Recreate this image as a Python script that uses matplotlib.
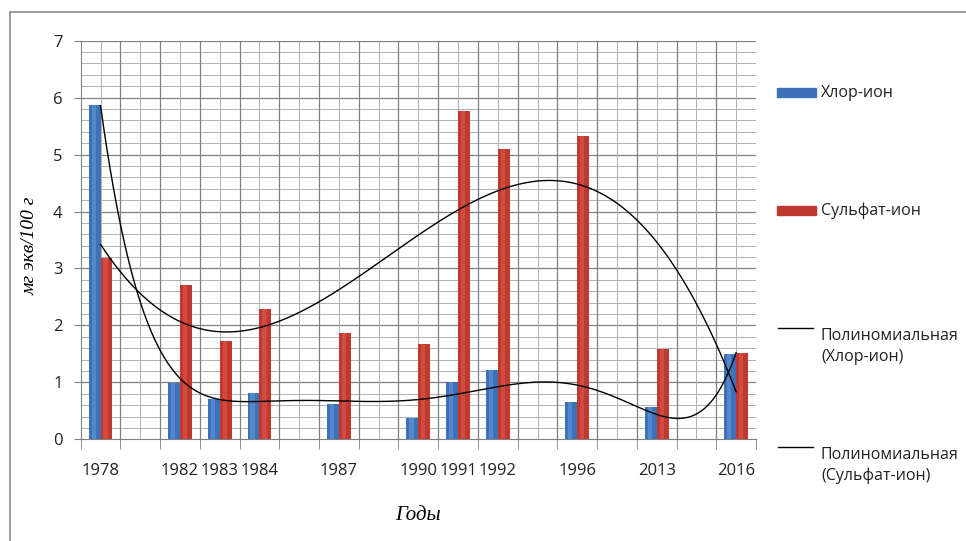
import matplotlib.pyplot as plt
import numpy as np
from matplotlib.lines import Line2D
from matplotlib.patches import Rectangle

# Category slots along the x axis (empty slots keep the spacing between years)
years = ['1978', '', '1982', '1983', '1984', '', '1987', '', '1990', '1991',
         '1992', '', '1996', '', '2013', '', '2016']
chlor = [5.87, None, 0.99, 0.70, 0.82, None, 0.62, None, 0.37, 1.00,
         1.21, None, 0.65, None, 0.56, None, 1.50]
sulfate = [3.18, None, 2.71, 1.72, 2.28, None, 1.87, None, 1.67, 5.76,
           5.10, None, 5.33, None, 1.59, None, 1.52]

# order of the polynomial trendline for each series
chlor_order = 6
sulfate_order = 3

blue = '#3d72b8'
blue_hi = '#6fa3e0'
red = '#c0392f'
red_hi = '#e8605a'
grid_major = '#808080'
grid_minor = '#b0b0b0'

plt.rcParams['font.family'] = ['Open Sans', 'DejaVu Sans']

fig = plt.figure(figsize=(9.66, 5.41), dpi=100)
ax = fig.add_axes([80.7 / 966, (541 - 439.3) / 541, (756 - 80.7) / 966, (439.3 - 40.7) / 541])

x = np.arange(len(years))
bar_w = 0.3


def draw_bars(values, offset, color, hi):
    idx = [i for i, v in enumerate(values) if v is not None]
    vals = [values[i] for i in idx]
    pos = x[idx] + offset
    ax.bar(pos, vals, width=bar_w, color=color, zorder=3, linewidth=0)
    # lighter stripe gives the bars a rounded look
    ax.bar(pos - bar_w * 0.08, vals, width=bar_w * 0.35, color=hi, alpha=0.45,
           zorder=3, linewidth=0)
    return idx, vals


ci, cv = draw_bars(chlor, -bar_w / 2, blue, blue_hi)
si, sv = draw_bars(sulfate, bar_w / 2, red, red_hi)

# polynomial trendlines, category index as x
xs = np.linspace(0, len(years) - 1, 400)
for idx, vals, order in ((ci, cv, chlor_order), (si, sv, sulfate_order)):
    coef = np.polyfit(np.array(idx, dtype=float), vals, order)
    ax.plot(xs, np.polyval(coef, xs), color='black', lw=1.0, zorder=4)

# axes and grid
ax.set_xlim(-0.5, len(years) - 0.5)
ax.set_ylim(0, 7)
ax.set_yticks(range(0, 8))
ax.set_yticks(np.arange(0, 7.01, 0.2), minor=True)
ax.set_xticks(x)
ax.set_xticklabels(years)
ax.set_xticks(np.arange(-0.5, len(years), 1.0), minor=True)

ax.grid(False)
for yv in np.arange(0.2, 7.0, 0.2):
    major = abs(yv - round(yv)) < 1e-6
    ax.axhline(yv, color=grid_major if major else grid_minor,
               lw=0.9 if major else 0.7, zorder=1)
for xv in x:
    ax.axvline(xv, color=grid_minor, lw=0.7, zorder=1)
for xv in np.arange(0.5, len(years) - 1, 1.0):
    ax.axvline(xv, color=grid_major, lw=0.9, zorder=1)
ax.axhline(7, color=grid_major, lw=0.9, zorder=1)

for side in ('top', 'right'):
    ax.spines[side].set_visible(False)
ax.spines['left'].set_color('#808080')
ax.spines['bottom'].set_color('#808080')

ax.tick_params(axis='x', which='major', length=0, pad=17, labelsize=12, colors='#222222')
ax.tick_params(axis='x', which='minor', length=7, color='#808080')
ax.tick_params(axis='y', which='major', length=5, pad=8, labelsize=12,
               color='#808080', labelcolor='#222222')
ax.tick_params(axis='y', which='minor', length=0)

ax.set_ylabel('мг экв/100 г', family='Liberation Serif', style='italic', fontsize=14)
ax.yaxis.set_label_coords(-0.075, 0.485)
ax.set_xlabel('Годы', family='Liberation Serif', style='italic', fontsize=15)
ax.xaxis.set_label_coords(0.5, -0.19)
ax.xaxis.label.set_va('center')
ax.yaxis.label.set_va('center')

# legend on the right
W, H = 966, 541


def fx(px):
    return px / W


def fy(py):
    return 1 - py / H


for ypx, color in ((92, blue), (210, red)):
    fig.add_artist(Rectangle((fx(777), fy(ypx + 4.5)), fx(816) - fx(777), 9 / H,
                             transform=fig.transFigure, color=color))
fig.text(fx(821), fy(93), 'Хлор-ион', fontsize=11.5, va='center', color='#222222')
fig.text(fx(821), fy(211), 'Сульфат-ион', fontsize=11.5, va='center', color='#222222')

for ytop, name in ((328, '(Хлор-ион)'), (447, '(Сульфат-ион)')):
    fig.add_artist(Line2D([fx(778), fx(813)], [fy(ytop), fy(ytop)],
                          transform=fig.transFigure, color='black', lw=1.0))
    fig.text(fx(821), fy(ytop), 'Полиномиальная\n' + name, fontsize=11.5,
             va='top', ha='left', color='#222222', linespacing=1.4,
             transform=fig.transFigure)

# outer chart frame
frame = '#8c8c8c'
fig.add_artist(Line2D([fx(10), fx(10)], [0, fy(12)], transform=fig.transFigure, color=frame, lw=1.2))
fig.add_artist(Line2D([fx(10), 1], [fy(12), fy(12)], transform=fig.transFigure, color=frame, lw=1.2))

fig.savefig('out.png', dpi=100)
